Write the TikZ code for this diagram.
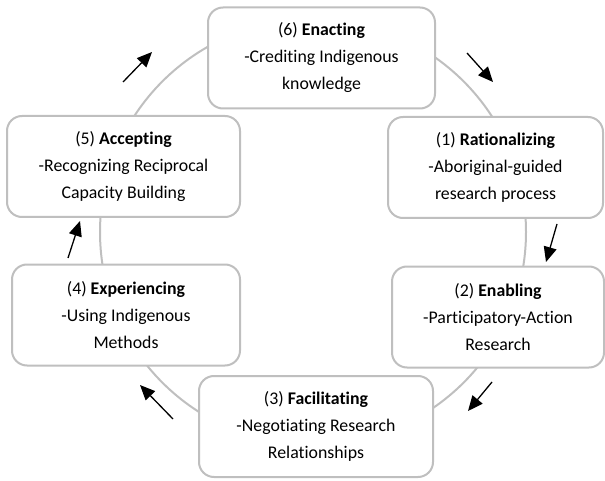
\documentclass[tikz,border=0pt]{standalone}
\usepackage{fontspec}
\setmainfont{Carlito}[Ligatures=NoCommon]
\usepackage{xcolor}
\usepackage{tikz}
\usetikzlibrary{arrows.meta}

\definecolor{ringgray}{RGB}{191,191,191}

\begin{document}
\begin{tikzpicture}[x=1pt, y=-1pt,
    stage/.style={rectangle, draw=ringgray, line width=2pt, fill=white, rounded corners=15pt, minimum height=101pt, align=center, font=\fontsize{17.8}{27}\selectfont},
    ring/.style={draw=ringgray, line width=2pt},
    arrow/.style={line width=1.3pt, -{Triangle[length=15pt,width=13pt]}}]

    \useasboundingbox (0,0) rectangle (605,481);

    % the cycle behind the boxes
    \coordinate (ctr) at (313,232);
    \draw [ring] (ctr) circle [radius=213pt];

    \node [stage, minimum width=227pt] (enact) at (321.5,58) {(6) \textbf{Enacting}\\-Crediting Indigenous\\knowledge};
    \node [stage, minimum width=215pt] (ration) at (495.5,167.5) {(1) \textbf{Rationalizing}\\-Aboriginal-guided\\research process};
    \node [stage, minimum width=212pt] (enable) at (498,317) {(2) \textbf{Enabling}\\-Participatory-Action\\Research};
    \node [stage, minimum width=234pt] (facil) at (316,426.5) {(3) \textbf{Facilitating}\\-Negotiating Research\\Relationships};
    \node [stage, minimum width=228pt] (exper) at (126,315) {(4) \textbf{Experiencing}\\-Using Indigenous\\Methods};
    \node [stage, minimum width=233pt] (accept) at (123.5,166.5) {(5) \textbf{Accepting}\\-Recognizing Reciprocal\\Capacity Building};

    % direction arrows outside the ring
    \foreach \n/\sx/\sy/\ex/\ey in {a/123/82/152/52, b/467/53/493/82, c/557/224/546/262, d/492/382/468/411, e/173/419/140/385, f/68/258/80/221}{
        \coordinate (t\n) at (\sx,\sy);
        \coordinate (h\n) at (\ex,\ey);
        \draw [arrow] (t\n) -- (h\n);
    }
\end{tikzpicture}
\end{document}
